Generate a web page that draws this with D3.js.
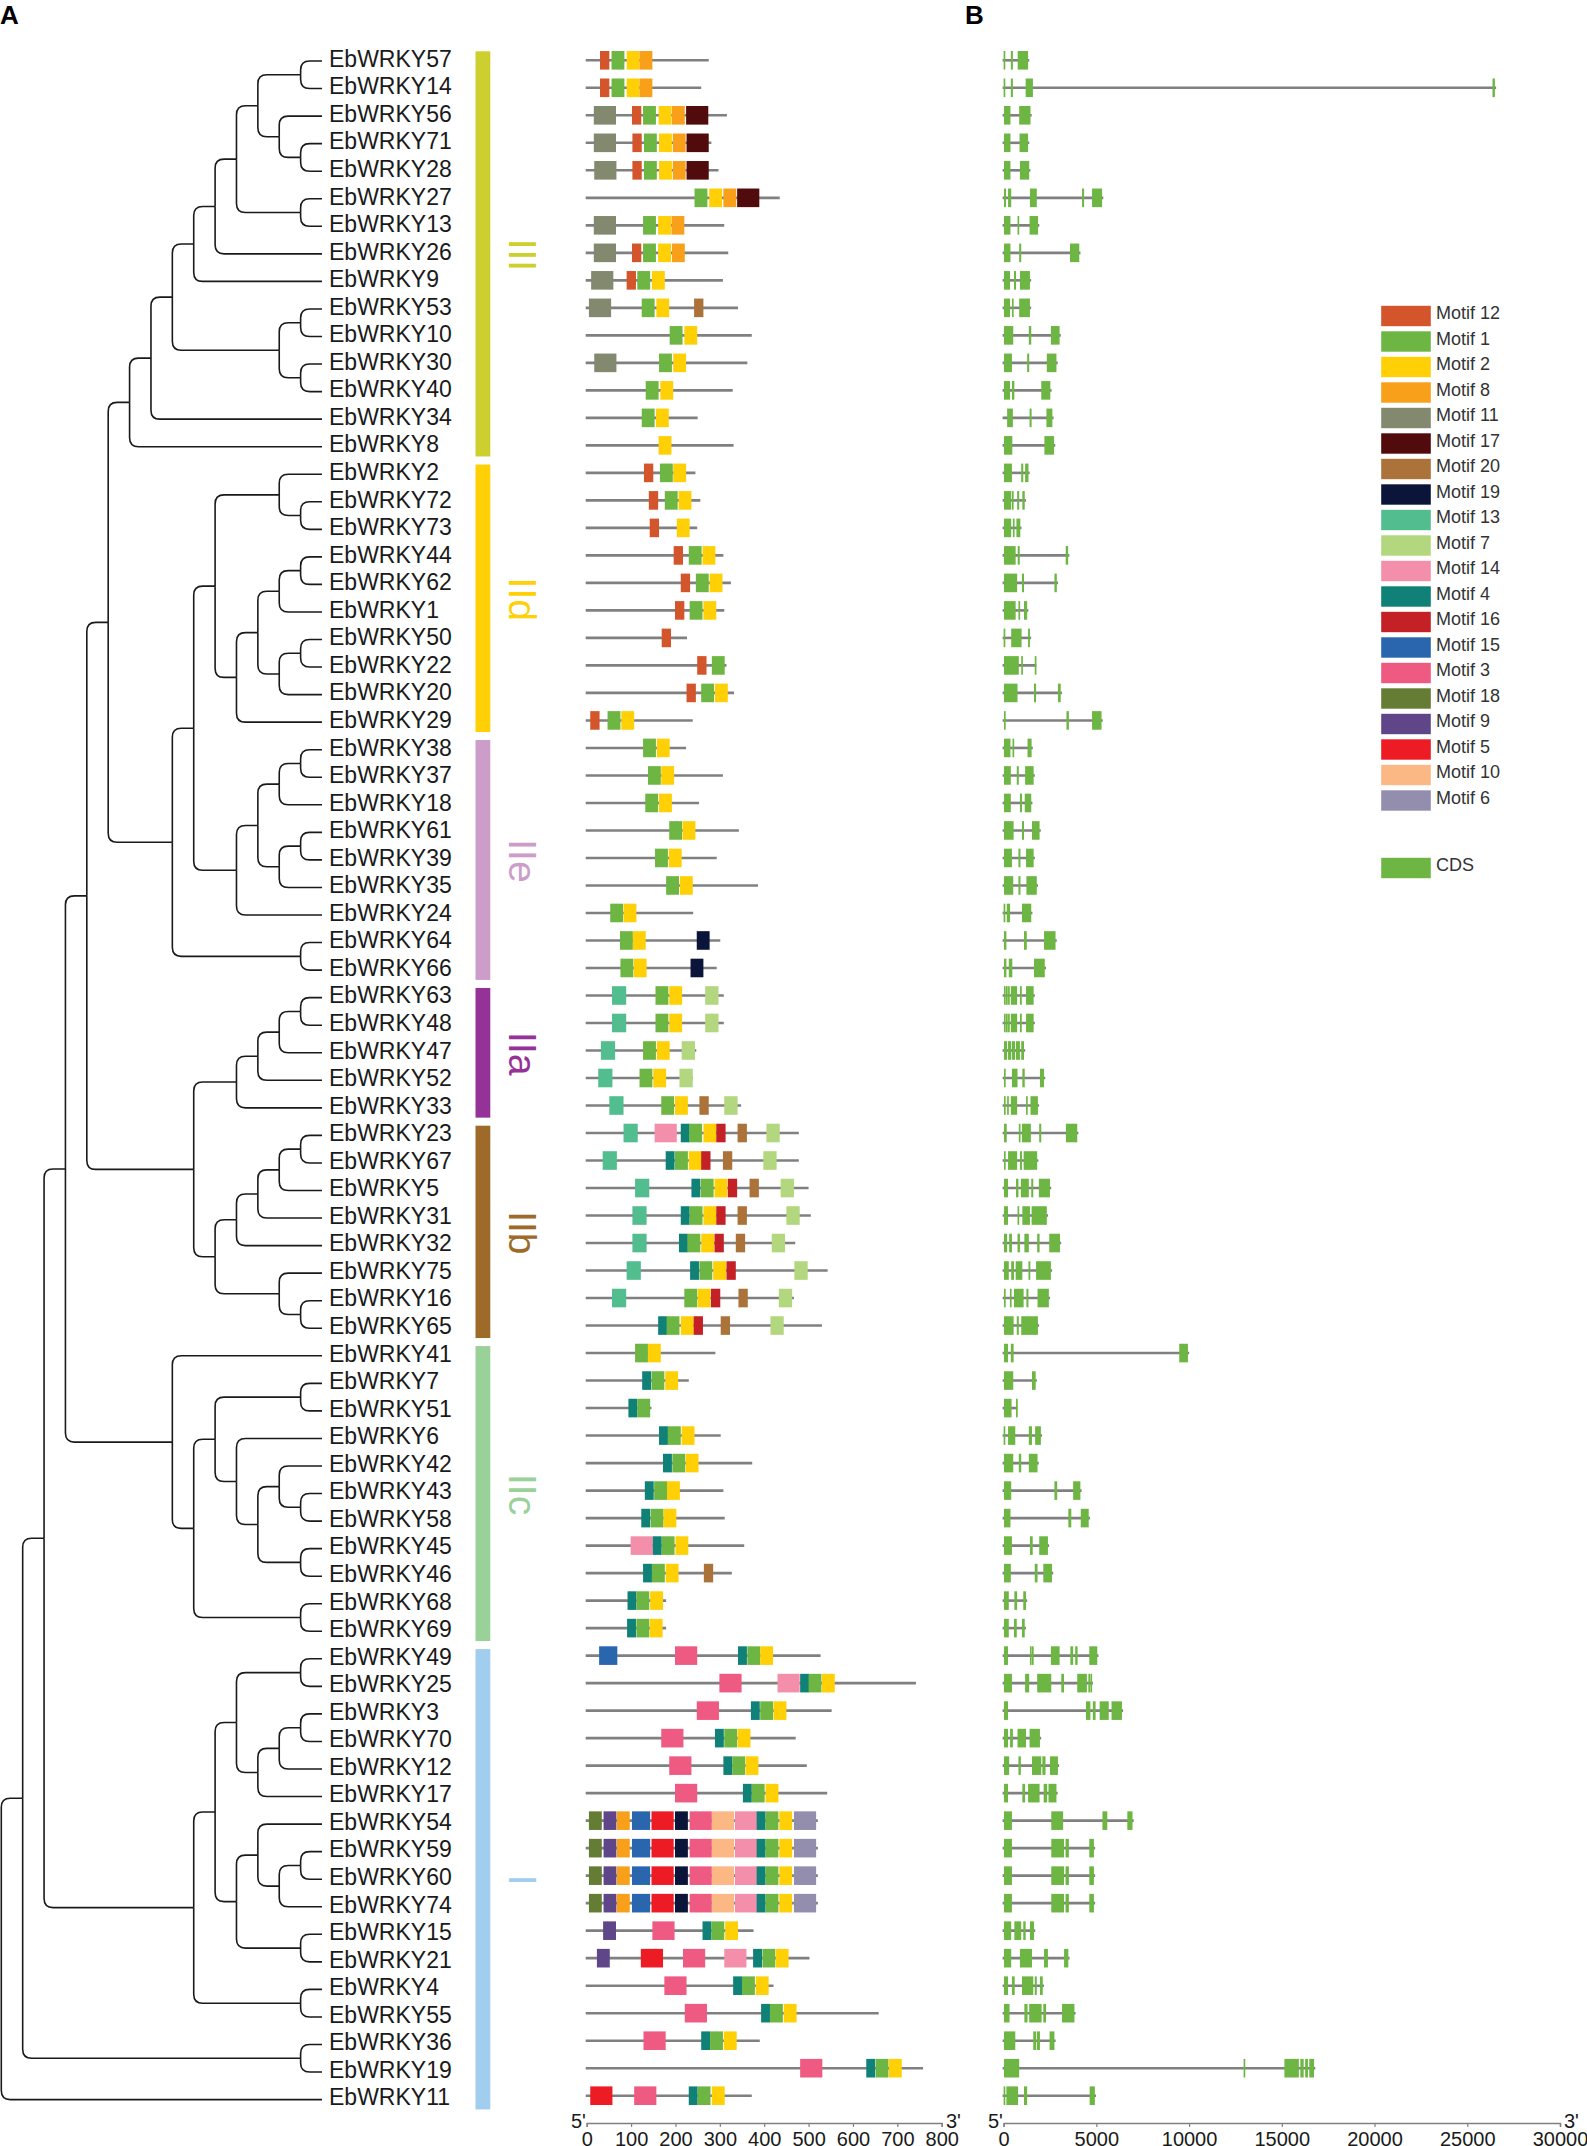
<!DOCTYPE html>
<html>
<head>
<meta charset="utf-8">
<script src="https://cdn.jsdelivr.net/npm/d3@7"></script>
<style>
body { margin: 0; background: #fff; }
text { font-family: "Liberation Sans", Arial, sans-serif; }
</style>
</head>
<body>
<script>
// gene order, top to bottom
var geneIds = [57,14,56,71,28,27,13,26,9,53,10,30,40,34,8,
  2,72,73,44,62,1,50,22,20,29,
  38,37,18,61,39,35,24,64,66,
  63,48,47,52,33,
  23,67,5,31,32,75,16,65,
  41,7,51,6,42,43,58,45,46,68,69,
  49,25,3,70,12,17,54,59,60,74,15,21,4,55,36,19,11];

// tree topology as nested pairs
var cladeIII = [[[[[[[[57,14],[56,[71,28]]],[27,13]],26],9],[[53,10],[30,40]]],34],8];
var cladeIId = [[2,[72,73]],[[[[44,62],1],[[50,22],20]],29]];
var cladeIIe = [[[[38,37],18],[[61,39],35]],24];
var cladeIIa = [[[[63,48],47],52],33];
var cladeIIb = [[[[[23,67],5],31],32],[75,[16,65]]];
var cladeIIc = [41,[[[7,51],[6,[[42,[43,58]],[45,46]]]],[68,69]]];
var cladeI = [[[[49,25],[[[3,70],12],17]],[[54,[[59,60],74]],[15,21]]],[4,55]];
var treeShape = [[[[[cladeIII,[[cladeIId,cladeIIe],[64,66]]],[cladeIIa,cladeIIb]],cladeIIc],cladeI],[36,19]];
treeShape = [treeShape,11];

// subfamily bands
var groupNames = ["III","IId","IIe","IIa","IIb","IIc","I"];
var groupFirst = [57,2,38,63,23,41,49];
var groupLast = [8,29,66,33,65,69,11];
var groupColors = ["#CDCF2E","#FFD006","#CC9DC9","#953297","#9E6A29","#99D199","#A1CDEF"];

// motif legend
var motifOrder = [12,1,2,8,11,17,20,19,13,7,14,4,16,15,3,18,9,5,10,6];
var motifColors = ["#D4552B","#6DB643","#FFD005","#F9A01B","#82896E","#510B0C","#AB7339","#0B1539","#52BD8F","#B3D77E",
  "#F48FAB","#0F8177","#C42126","#2A66AE","#EF5A82","#647C33","#5E4689","#ED1C24","#FBB884","#938DAE"];
var motifSizes = [21,29,29,29,50,50,21,29,32,30,50,20,21,41,50,29,29,50,50,50];

// protein length, same order as geneIds
var proteinLen = [275,258,316,281,297,435,310,319,307,341,372,362,329,250,331,
  245,256,249,308,325,310,226,315,332,239,
  224,307,253,343,293,386,240,301,293,
  309,309,247,239,348,
  478,478,500,505,470,543,467,530,
  290,230,146,302,373,308,311,355,327,179,179,
  527,742,552,471,496,542,521,521,521,521,376,502,421,658,390,758,372];

// motif hits per gene: [motif, start]
var core54 = [[18,5],[9,38],[8,68],[15,102],[5,146],[19,199],[3,232],[10,282],[14,334],[4,383],[1,403],[2,434],[6,467]];
var motifHits = [
  [[12,30],[1,56],[2,90],[8,119]],
  [[12,30],[1,56],[2,90],[8,119]],
  [[11,16],[12,102],[1,127],[2,162],[8,192],[17,224]],
  [[11,16],[12,103],[1,129],[2,163],[8,194],[17,225]],
  [[11,17],[12,103],[1,129],[2,163],[8,194],[17,225]],
  [[1,243],[2,276],[8,308],[17,339]],
  [[11,16],[1,127],[2,161],[8,191]],
  [[11,16],[12,102],[1,127],[2,161],[8,192]],
  [[11,10],[12,90],[1,114],[2,147]],
  [[11,5],[1,124],[2,157],[20,242]],
  [[1,187],[2,220]],
  [[11,17],[1,163],[2,195]],
  [[1,133],[2,166]],
  [[1,124],[2,156]],
  [[2,162]],
  [[12,129],[1,165],[2,195]],
  [[12,140],[1,176],[2,207]],
  [[12,142],[2,203]],
  [[12,196],[1,230],[2,261]],
  [[12,212],[1,246],[2,277]],
  [[12,199],[1,232],[2,263]],
  [[12,169]],
  [[12,249],[1,282]],
  [[12,225],[1,258],[2,289]],
  [[12,8],[1,47],[2,78]],
  [[1,127],[2,158]],
  [[1,138],[2,168]],
  [[1,132],[2,163]],
  [[1,186],[2,216]],
  [[1,154],[2,185]],
  [[1,179],[2,210]],
  [[1,53],[2,83]],
  [[1,75],[2,104],[19,248]],
  [[1,76],[2,106],[19,234]],
  [[13,57],[1,155],[2,186],[7,267]],
  [[13,57],[1,155],[2,186],[7,267]],
  [[13,32],[1,127],[2,158],[7,214]],
  [[13,26],[1,119],[2,150],[7,209]],
  [[13,51],[1,168],[2,199],[20,254],[7,310]],
  [[13,83],[14,153],[4,212],[1,231],[2,263],[16,292],[20,340],[7,405]],
  [[13,36],[4,178],[1,199],[2,230],[16,258],[20,307],[7,398]],
  [[13,109],[4,236],[1,257],[2,288],[16,318],[20,367],[7,437]],
  [[13,103],[4,212],[1,232],[2,263],[16,292],[20,340],[7,450]],
  [[13,103],[4,208],[1,227],[2,258],[16,288],[20,336],[7,417]],
  [[13,90],[4,233],[1,254],[2,285],[16,315],[7,468]],
  [[13,57],[1,220],[2,250],[16,280],[20,342],[7,433]],
  [[4,161],[1,180],[2,212],[16,241],[20,302],[7,414]],
  [[1,109],[2,138]],
  [[4,125],[1,146],[2,177]],
  [[4,94],[1,114]],
  [[4,163],[1,183],[2,214]],
  [[4,172],[1,193],[2,223]],
  [[4,131],[1,152],[2,181]],
  [[4,123],[1,144],[2,173]],
  [[14,99],[4,149],[1,169],[2,200]],
  [[4,127],[1,147],[2,178],[20,264]],
  [[4,92],[1,112],[2,143]],
  [[4,91],[1,112],[2,142]],
  [[15,28],[3,199],[4,341],[1,362],[2,391]],
  [[3,299],[14,430],[4,481],[1,500],[2,530]],
  [[3,248],[4,370],[1,391],[2,421]],
  [[3,168],[4,289],[1,310],[2,340]],
  [[3,186],[4,308],[1,328],[2,358]],
  [[3,199],[4,352],[1,372],[2,403]],
  core54, core54, core54, core54,
  [[9,37],[3,148],[4,261],[1,281],[2,312]],
  [[9,23],[5,122],[3,217],[14,310],[4,375],[1,396],[2,426]],
  [[3,175],[4,330],[1,350],[2,381]],
  [[3,221],[4,393],[1,413],[2,444]],
  [[3,128],[4,258],[1,278],[2,309]],
  [[3,481],[4,630],[1,651],[2,681]],
  [[5,8],[3,107],[4,230],[1,250],[2,282]]
];

// exons per gene in bp: [start, end]
var exons59 = [[20,450],[2570,3260],[3340,3520],[4620,4870]];
var exons = [
  [[0,90],[390,500],[760,1320]],
  [[0,90],[390,500],[1190,1580],[26360,26490]],
  [[20,370],[840,1450]],
  [[20,370],[860,1320]],
  [[20,370],[880,1380]],
  [[20,130],[240,410],[1420,1790],[4230,4340],[4770,5310]],
  [[20,370],[750,840],[1400,1860]],
  [[20,370],[840,950],[3580,4080]],
  [[20,350],[560,670],[880,1420]],
  [[20,350],[450,540],[840,1420]],
  [[20,520],[1360,1490],[2550,3020]],
  [[20,450],[1270,1380],[2330,2850]],
  [[20,350],[450,580],[2030,2520]],
  [[190,500],[1400,1510],[2310,2630]],
  [[20,470],[2200,2720]],
  [[20,450],[950,1060],[1160,1340]],
  [[20,410],[450,540],[730,840],[1010,1140]],
  [[20,410],[500,580],[690,900]],
  [[20,650],[760,870],[3350,3480]],
  [[20,730],[990,1100],[2740,2870]],
  [[20,650],[800,860],[1100,1270]],
  [[0,30],[410,970],[1320,1420]],
  [[20,820],[950,1040],[1680,1700]],
  [[20,750],[1640,1750],[2930,3080]],
  [[20,110],[3390,3520],[4770,5280]],
  [[20,370],[480,560],[1290,1510]],
  [[20,390],[710,820],[1160,1620]],
  [[20,390],[880,990],[1140,1490]],
  [[20,540],[990,1100],[1530,1940]],
  [[20,450],[800,910],[1210,1620]],
  [[20,520],[800,910],[1230,1790]],
  [[0,90],[170,350],[990,1490]],
  [[20,150],[1100,1250],[2180,2800]],
  [[20,150],[280,470],[1640,2220]],
  [[20,70],[130,180],[240,280],[390,730],[880,980],[1210,1620]],
  [[20,70],[130,180],[240,280],[390,730],[880,980],[1210,1620]],
  [[20,190],[240,410],[450,620],[670,880],[950,1100]],
  [[20,110],[450,750],[1010,1140],[1960,2180]],
  [[20,90],[190,280],[390,730],[1210,1290],[1450,1850]],
  [[20,170],[820,860],[990,1470],[1920,2030],[3360,3970]],
  [[20,110],[240,730],[880,990],[1080,1810]],
  [[20,240],[670,800],[930,1360],[1490,1600],[1900,2500]],
  [[20,240],[750,840],[1010,1420],[1510,2330]],
  [[20,190],[300,450],[750,880],[1120,1360],[1810,1940],[2460,3040]],
  [[20,280],[410,560],[650,1010],[1340,1440],[1750,2550]],
  [[20,90],[340,410],[560,1080],[1230,1340],[1830,2440]],
  [[20,540],[710,820],[950,1850]],
  [[20,240],[390,540],[9470,9940]],
  [[20,520],[1530,1730]],
  [[20,430],[670,690]],
  [[0,90],[240,630],[1360,1530],[1700,2010]],
  [[20,520],[820,950],[1360,1830]],
  [[20,410],[2740,2890],[3750,4140]],
  [[20,370],[3490,3650],[4160,4590]],
  [[20,450],[1420,1570],[1920,2390]],
  [[20,390],[1680,1830],[2140,2610]],
  [[20,280],[580,730],[1060,1210]],
  [[20,280],[560,710],[990,1140]],
  [[20,240],[1420,1490],[1530,1620],[2550,3020],[3600,3750],[3860,3990],[4620,5050]],
  [[20,450],[1160,1380],[1810,2570],[3110,3260],[3970,4490],[4570,4620],[4680,4750]],
  [[20,240],[4440,4680],[4810,4960],[5180,5670],[5820,6380]],
  [[20,240],[350,500],[750,1210],[1400,1960]],
  [[20,300],[800,930],[1530,2030],[2090,2260],[2500,2930]],
  [[20,240],[1010,1160],[1320,1940],[2160,2350],[2420,2850]],
  [[20,450],[2570,3210],[5330,5370],[5410,5590],[6670,6950]],
  exons59, exons59, exons59,
  [[20,410],[580,950],[1060,1190],[1420,1640]],
  [[20,410],[880,1530],[2180,2390],[3260,3490]],
  [[20,240],[450,600],[990,1600],[1680,1790],[1960,2110]],
  [[20,320],[1120,1290],[1380,2050],[2140,2290],[3150,3820]],
  [[20,630],[1600,1750],[1790,1960],[2480,2740]],
  [[20,840],[12940,13010],[15140,15920],[16000,16180],[16260,16410],[16480,16740]],
  [[0,40],[150,780],[1100,1270],[4640,4920]]
];

var proteinTicks = [0,100,200,300,400,500,600,700,800];
var geneTicks = [0,5000,10000,15000,20000,25000,30000];

var width = 1587, height = 2146;
var boxH = 18.6;
var axisY = 2123;

var svg = d3.select("body").append("svg")
  .attr("width", width).attr("height", height)
  .style("display", "block");

// the tree/label column and the motif/gene columns have slightly different row pitch
var rowY = d3.scalePoint().domain(geneIds).range([60.3, 2095.7]);
var tipY = d3.scalePoint().domain(geneIds).range([61, 2099.6]);
var treeX = d3.scaleLinear().domain([0, 15]).range([322, 1.3]);
var protX = d3.scaleLinear().domain([0, 800]).range([586.7, 941.7]);
var geneX = d3.scaleLinear().domain([0, 30000]).range([1003.6, 1560]);
var motifColor = d3.scaleOrdinal().domain(motifOrder).range(motifColors);
var motifSize = d3.scaleOrdinal().domain(motifOrder).range(motifSizes);

// tree
var root = d3.hierarchy(treeShape, function(d){ return Array.isArray(d) ? d : null; });
root.eachAfter(function(n){
  n.py = n.children
    ? (n.children[0].py + n.children[n.children.length-1].py) / 2
    : tipY(n.data);
  n.px = treeX(n.height);
});

function elbow(l){
  var x0 = l.source.px, y0 = l.source.py, x1 = l.target.px, y1 = l.target.py;
  var r = 9, s = y1 > y0 ? 1 : -1;
  return "M"+x0+","+y0+"V"+(y1-s*r)+"Q"+x0+","+y1+" "+(x0+r)+","+y1+"H"+x1;
}

svg.append("g").selectAll("path").data(root.links()).join("path")
  .attr("d", elbow)
  .attr("fill", "none").attr("stroke", "#1a1a1a").attr("stroke-width", 1.6);

// gene names
svg.append("g").selectAll("text").data(geneIds).join("text")
  .attr("x", 329).attr("y", function(d){ return tipY(d) + 5.8; })
  .attr("font-size", 23).attr("fill", "#1a1a1a")
  .text(function(d){ return "EbWRKY" + d; });

// subfamily bands and labels
var bands = svg.append("g");
groupNames.forEach(function(name, i){
  var y0 = tipY(groupFirst[i]) - 9.7, y1 = tipY(groupLast[i]) + 9.8;
  bands.append("rect").attr("x", 475.5).attr("y", y0).attr("width", 14.8).attr("height", y1 - y0)
    .attr("fill", groupColors[i]);
  bands.append("text")
    .attr("transform", "translate(509," + ((y0 + y1) / 2 + 1) + ") rotate(90)")
    .attr("text-anchor", "middle").attr("font-size", 39).attr("fill", groupColors[i])
    .text(name);
});

// protein motifs
var motifRows = svg.append("g").selectAll("g").data(geneIds).join("g");
motifRows.append("line")
  .attr("x1", protX(0)-1).attr("x2", function(d, i){ return protX(proteinLen[i]); })
  .attr("y1", function(d){ return rowY(d); }).attr("y2", function(d){ return rowY(d); })
  .attr("stroke", "#808080").attr("stroke-width", 2.6);
motifRows.selectAll("rect").data(function(d, i){ return motifHits[i].map(function(h){ return {id: d, motif: h[0], start: h[1]}; }); })
  .join("rect")
  .attr("x", function(d){ return protX(d.start); })
  .attr("width", function(d){ return protX(d.start + motifSize(d.motif)) - protX(d.start); })
  .attr("y", function(d){ return rowY(d.id) - boxH/2; })
  .attr("height", boxH)
  .attr("fill", function(d){ return motifColor(d.motif); });

// gene structures
var geneRows = svg.append("g").selectAll("g").data(geneIds).join("g");
geneRows.append("line")
  .attr("x1", geneX(0)-1).attr("x2", function(d, i){ return geneX(exons[i][exons[i].length-1][1]) + 1.2; })
  .attr("y1", function(d){ return rowY(d); }).attr("y2", function(d){ return rowY(d); })
  .attr("stroke", "#808080").attr("stroke-width", 2.6);
geneRows.selectAll("rect").data(function(d, i){ return exons[i].map(function(e){ return {id: d, start: e[0], end: e[1]}; }); })
  .join("rect")
  .attr("x", function(d){ return geneX(d.start); })
  // very short exons still show as a visible tick
  .attr("width", function(d){ return Math.max(geneX(d.end) - geneX(d.start), 1.7); })
  .attr("y", function(d){ return rowY(d.id) - boxH/2; })
  .attr("height", boxH)
  .attr("fill", "#6DB643");

// axes
function drawAxis(scale, ticks, left, right){
  var g = svg.append("g").attr("transform", "translate(0," + axisY + ")")
    .call(d3.axisBottom(scale).tickValues(ticks).tickFormat(d3.format("d")).tickSize(4).tickPadding(4.5));
  g.select(".domain").attr("stroke", "#808080").attr("stroke-width", 1.5);
  g.selectAll(".tick line").attr("stroke", "#808080").attr("stroke-width", 1.2);
  g.selectAll(".tick text").attr("font-size", 20).attr("font-family", '"Liberation Sans", Arial, sans-serif').attr("fill", "#1a1a1a");
  svg.append("text").attr("x", left).attr("y", 2128).attr("font-size", 20).attr("fill", "#1a1a1a").text("5'");
  svg.append("text").attr("x", right).attr("y", 2128).attr("font-size", 20).attr("fill", "#1a1a1a").text("3'");
}
drawAxis(protX, proteinTicks, 571, 946);
drawAxis(geneX, geneTicks, 988, 1564);

// legend
var legendItems = motifOrder.map(function(m){ return "Motif " + m; });
var legY = d3.scalePoint().domain(legendItems).range([305.8, 305.8 + 19 * 25.5]);
var legend = svg.append("g");
legend.selectAll("rect").data(legendItems).join("rect")
  .attr("x", 1381.2).attr("y", function(d){ return legY(d); })
  .attr("width", 49.6).attr("height", 20.4)
  .attr("fill", function(d, i){ return motifColors[i]; });
legend.selectAll("text").data(legendItems).join("text")
  .attr("x", 1436).attr("y", function(d){ return legY(d) + 13.5; })
  .attr("font-size", 18).attr("fill", "#333")
  .text(function(d){ return d; });
legend.append("rect").attr("x", 1381.2).attr("y", 857.8).attr("width", 49.6).attr("height", 20.4).attr("fill", "#6DB643");
legend.append("text").attr("x", 1436).attr("y", 871.3).attr("font-size", 18).attr("fill", "#333").text("CDS");

// panel letters
svg.append("text").attr("x", 0).attr("y", 24).attr("font-size", 26).attr("font-weight", "bold").text("A");
svg.append("text").attr("x", 965).attr("y", 24).attr("font-size", 26).attr("font-weight", "bold").text("B");
</script>
</body>
</html>
